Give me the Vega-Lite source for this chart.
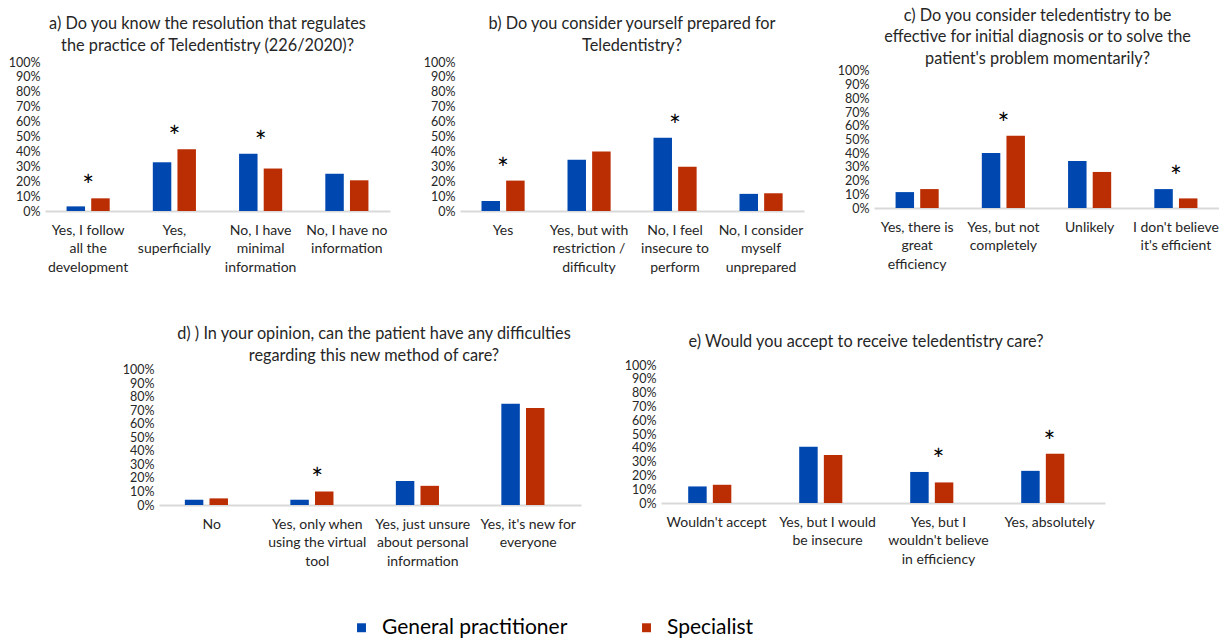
{
  "$schema": "https://vega.github.io/schema/vega-lite/v6.json",
  "padding": {"left": 8, "top": 7, "right": 0, "bottom": 0},
  "data": {"values": [
    {"panel": "a", "cat": "Yes, I follow\nall the\ndevelopment", "group": "General practitioner", "value": 3.1, "sig": true},
    {"panel": "a", "cat": "Yes, I follow\nall the\ndevelopment", "group": "Specialist", "value": 8.5, "sig": true},
    {"panel": "a", "cat": "Yes,\nsuperficially", "group": "General practitioner", "value": 32.7, "sig": true},
    {"panel": "a", "cat": "Yes,\nsuperficially", "group": "Specialist", "value": 41.4, "sig": true},
    {"panel": "a", "cat": "No, I have\nminimal\ninformation", "group": "General practitioner", "value": 38.5, "sig": true},
    {"panel": "a", "cat": "No, I have\nminimal\ninformation", "group": "Specialist", "value": 28.5, "sig": true},
    {"panel": "a", "cat": "No, I have no\ninformation", "group": "General practitioner", "value": 25.0, "sig": false},
    {"panel": "a", "cat": "No, I have no\ninformation", "group": "Specialist", "value": 20.6, "sig": false},
    {"panel": "b", "cat": "Yes", "group": "General practitioner", "value": 6.7, "sig": true},
    {"panel": "b", "cat": "Yes", "group": "Specialist", "value": 20.4, "sig": true},
    {"panel": "b", "cat": "Yes, but with\nrestriction /\ndifficulty", "group": "General practitioner", "value": 34.4, "sig": false},
    {"panel": "b", "cat": "Yes, but with\nrestriction /\ndifficulty", "group": "Specialist", "value": 40.0, "sig": false},
    {"panel": "b", "cat": "No, I feel\ninsecure to\nperform", "group": "General practitioner", "value": 49.2, "sig": true},
    {"panel": "b", "cat": "No, I feel\ninsecure to\nperform", "group": "Specialist", "value": 29.7, "sig": true},
    {"panel": "b", "cat": "No, I consider\nmyself\nunprepared", "group": "General practitioner", "value": 11.5, "sig": false},
    {"panel": "b", "cat": "No, I consider\nmyself\nunprepared", "group": "Specialist", "value": 11.9, "sig": false},
    {"panel": "c", "cat": "Yes, there is\ngreat\nefficiency", "group": "General practitioner", "value": 11.6, "sig": false},
    {"panel": "c", "cat": "Yes, there is\ngreat\nefficiency", "group": "Specialist", "value": 13.8, "sig": false},
    {"panel": "c", "cat": "Yes, but not\ncompletely", "group": "General practitioner", "value": 40.1, "sig": true},
    {"panel": "c", "cat": "Yes, but not\ncompletely", "group": "Specialist", "value": 52.7, "sig": true},
    {"panel": "c", "cat": "Unlikely", "group": "General practitioner", "value": 34.3, "sig": false},
    {"panel": "c", "cat": "Unlikely", "group": "Specialist", "value": 26.3, "sig": false},
    {"panel": "c", "cat": "I don't believe\nit's efficient", "group": "General practitioner", "value": 13.8, "sig": true},
    {"panel": "c", "cat": "I don't believe\nit's efficient", "group": "Specialist", "value": 7.0, "sig": true},
    {"panel": "d", "cat": "No", "group": "General practitioner", "value": 3.9, "sig": false},
    {"panel": "d", "cat": "No", "group": "Specialist", "value": 4.9, "sig": false},
    {"panel": "d", "cat": "Yes, only when\nusing the virtual\ntool", "group": "General practitioner", "value": 3.9, "sig": true},
    {"panel": "d", "cat": "Yes, only when\nusing the virtual\ntool", "group": "Specialist", "value": 10.0, "sig": true},
    {"panel": "d", "cat": "Yes, just unsure\nabout personal\ninformation", "group": "General practitioner", "value": 17.8, "sig": false},
    {"panel": "d", "cat": "Yes, just unsure\nabout personal\ninformation", "group": "Specialist", "value": 14.2, "sig": false},
    {"panel": "d", "cat": "Yes, it's new for\neveryone", "group": "General practitioner", "value": 75.0, "sig": false},
    {"panel": "d", "cat": "Yes, it's new for\neveryone", "group": "Specialist", "value": 71.9, "sig": false},
    {"panel": "e", "cat": "Wouldn't accept", "group": "General practitioner", "value": 12.0, "sig": false},
    {"panel": "e", "cat": "Wouldn't accept", "group": "Specialist", "value": 13.2, "sig": false},
    {"panel": "e", "cat": "Yes, but I would\nbe insecure", "group": "General practitioner", "value": 40.8, "sig": false},
    {"panel": "e", "cat": "Yes, but I would\nbe insecure", "group": "Specialist", "value": 34.8, "sig": false},
    {"panel": "e", "cat": "Yes, but I\nwouldn't believe\nin efficiency", "group": "General practitioner", "value": 22.5, "sig": true},
    {"panel": "e", "cat": "Yes, but I\nwouldn't believe\nin efficiency", "group": "Specialist", "value": 14.9, "sig": true},
    {"panel": "e", "cat": "Yes, absolutely", "group": "General practitioner", "value": 23.3, "sig": true},
    {"panel": "e", "cat": "Yes, absolutely", "group": "Specialist", "value": 35.7, "sig": true}
  ]},
  "vconcat": [
    {
      "hconcat": [
        {
          "width": 345, "height": 149,
          "title": {"text": ["a) Do you know the resolution that regulates", "the practice of Teledentistry (226/2020)?"], "dx": -10, "offset": 2},
          "transform": [{"filter": "datum.panel === 'a'"}],
          "encoding": {
            "x": {"field": "cat", "type": "nominal", "sort": null, "title": null, "scale": {"paddingInner": 0.5, "paddingOuter": 0.25}},
            "y": {"field": "value", "type": "quantitative", "title": null, "scale": {"domain": [0, 100]}, "axis": {"values": [0, 10, 20, 30, 40, 50, 60, 70, 80, 90, 100]}}
          },
          "layer": [
            {"mark": "bar", "encoding": {"xOffset": {"field": "group", "type": "nominal", "scale": {"paddingInner": 0.25}}, "color": {"field": "group", "type": "nominal"}}},
            {"transform": [{"filter": "datum.sig"}, {"aggregate": [{"op": "max", "field": "value", "as": "value"}], "groupby": ["cat"]}], "mark": {"type": "text", "text": "*", "fontSize": 28, "baseline": "alphabetic", "dy": -2, "color": "#000000"}, "encoding": {}}
          ]
        },
        {
          "width": 344, "height": 149,
          "title": {"text": ["b) Do you consider yourself prepared for", "Teledentistry?"], "offset": 2},
          "transform": [{"filter": "datum.panel === 'b'"}],
          "encoding": {
            "x": {"field": "cat", "type": "nominal", "sort": null, "title": null, "scale": {"paddingInner": 0.5, "paddingOuter": 0.25}},
            "y": {"field": "value", "type": "quantitative", "title": null, "scale": {"domain": [0, 100]}, "axis": {"values": [0, 10, 20, 30, 40, 50, 60, 70, 80, 90, 100]}}
          },
          "layer": [
            {"mark": "bar", "encoding": {"xOffset": {"field": "group", "type": "nominal", "scale": {"paddingInner": 0.25}}, "color": {"field": "group", "type": "nominal"}}},
            {"transform": [{"filter": "datum.sig"}, {"aggregate": [{"op": "max", "field": "value", "as": "value"}], "groupby": ["cat"]}], "mark": {"type": "text", "text": "*", "fontSize": 28, "baseline": "alphabetic", "dy": -2, "color": "#000000"}, "encoding": {}}
          ]
        },
        {
          "width": 345, "height": 146,
          "title": {"text": ["c) Do you consider teledentistry to be", "effective for initial diagnosis or to solve the", "patient's problem momentarily?"], "dx": -9, "offset": -5},
          "transform": [{"filter": "datum.panel === 'c'"}],
          "encoding": {
            "x": {"field": "cat", "type": "nominal", "sort": null, "title": null, "scale": {"paddingInner": 0.5, "paddingOuter": 0.25}},
            "y": {"field": "value", "type": "quantitative", "title": null, "scale": {"domain": [0, 106.5]}, "axis": {"values": [0, 10, 20, 30, 40, 50, 60, 70, 80, 90, 100]}}
          },
          "layer": [
            {"mark": "bar", "encoding": {"xOffset": {"field": "group", "type": "nominal", "scale": {"paddingInner": 0.25}}, "color": {"field": "group", "type": "nominal"}}},
            {"transform": [{"filter": "datum.sig"}, {"aggregate": [{"op": "max", "field": "value", "as": "value"}], "groupby": ["cat"]}], "mark": {"type": "text", "text": "*", "fontSize": 28, "baseline": "alphabetic", "dy": -2, "color": "#000000"}, "encoding": {}}
          ]
        }
      ],
      "spacing": 70,
      "bounds": "flush"
    },
    {
      "hconcat": [
        {
          "width": 422, "height": 140,
          "title": {"text": ["d) ) In your opinion, can the patient have any difficulties", "regarding this new method of care?"], "dx": 4, "offset": 0},
          "transform": [{"filter": "datum.panel === 'd'"}],
          "encoding": {
            "x": {"field": "cat", "type": "nominal", "sort": null, "title": null, "scale": {"paddingInner": 0.49, "paddingOuter": 0.245}},
            "y": {"field": "value", "type": "quantitative", "title": null, "scale": {"domain": [0, 103.7]}, "axis": {"values": [0, 10, 20, 30, 40, 50, 60, 70, 80, 90, 100]}}
          },
          "layer": [
            {"mark": "bar", "encoding": {"xOffset": {"field": "group", "type": "nominal", "scale": {"paddingInner": 0.2}}, "color": {"field": "group", "type": "nominal"}}},
            {"transform": [{"filter": "datum.sig"}, {"aggregate": [{"op": "max", "field": "value", "as": "value"}], "groupby": ["cat"]}], "mark": {"type": "text", "text": "*", "fontSize": 28, "baseline": "alphabetic", "dy": -2, "color": "#000000"}, "encoding": {}}
          ]
        },
        {
          "width": 444, "height": 138,
          "title": {"text": "e) Would you accept to receive teledentistry care?", "dx": -17, "offset": 9},
          "transform": [{"filter": "datum.panel === 'e'"}],
          "encoding": {
            "x": {"field": "cat", "type": "nominal", "sort": null, "title": null, "scale": {"paddingInner": 0.49, "paddingOuter": 0.245}},
            "y": {"field": "value", "type": "quantitative", "title": null, "scale": {"domain": [0, 100]}, "axis": {"values": [0, 10, 20, 30, 40, 50, 60, 70, 80, 90, 100]}}
          },
          "layer": [
            {"mark": "bar", "encoding": {"xOffset": {"field": "group", "type": "nominal", "scale": {"paddingInner": 0.23}}, "color": {"field": "group", "type": "nominal"}}},
            {"transform": [{"filter": "datum.sig"}, {"aggregate": [{"op": "max", "field": "value", "as": "value"}], "groupby": ["cat"]}], "mark": {"type": "text", "text": "*", "fontSize": 28, "baseline": "alphabetic", "dy": -2, "color": "#000000"}, "encoding": {}}
          ]
        }
      ],
      "spacing": 80,
      "bounds": "flush"
    }
  ],
  "spacing": 52,
  "center": true,
  "resolve": {"scale": {"color": "shared"}},
  "config": {
    "font": "Lato",
    "view": {"stroke": null},
    "range": {"category": ["#0047b0", "#bb2d02"]},
    "axisY": {"domain": false, "ticks": false, "grid": false, "labelFontSize": 12.5, "labelColor": "#262626", "labelPadding": 5, "labelExpr": "datum.value + '%'"},
    "axisX": {"domainColor": "#d9d9d9", "domainWidth": 2, "ticks": false, "grid": false, "labelAngle": 0, "labelFontSize": 14, "labelColor": "#262626", "labelPadding": 12, "labelLineHeight": 18.5, "labelLimit": 0, "labelExpr": "split(datum.value, '\\n')"},
    "title": {"fontSize": 16.3, "fontWeight": "normal", "color": "#262626", "lineHeight": 21.5, "anchor": "middle", "frame": "group"},
    "legend": {"orient": "none", "direction": "horizontal", "title": null, "legendX": 306, "legendY": 555, "symbolType": "square", "symbolSize": 80, "symbolStrokeWidth": 0, "labelFontSize": 21, "labelLimit": 0, "labelColor": "#000000", "columnPadding": 68, "labelOffset": 10}
  }
}
